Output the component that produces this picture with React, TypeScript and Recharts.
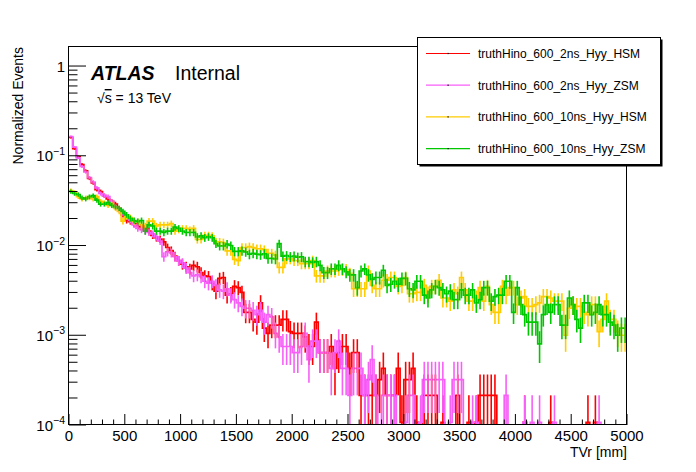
import React from "react";
import { ComposedChart, Line, XAxis, YAxis, ErrorBar } from "recharts";

const FONT = "'Liberation Sans', Arial, Helvetica, sans-serif";

// 150 bins over 0-5000 mm
const X_MIN = 0;
const X_MAX = 5000;
const N_BINS = 150;
const Y_MIN = 1e-4;
const Y_MAX = 1.63;

const X_MAJOR = [0, 500, 1000, 1500, 2000, 2500, 3000, 3500, 4000, 4500, 5000];
const Y_MAJOR = [1e-4, 1e-3, 1e-2, 1e-1, 1];

// normalized contents per bin
const hsm2ns = [
  0.16, 0.12, 0.097, 0.08, 0.068, 0.056, 0.05, 0.042, 0.04, 0.036,
  0.033, 0.031, 0.029, 0.026, 0.022, 0.019, 0.0185, 0.0175, 0.0165, 0.016,
  0.0155, 0.0145, 0.013, 0.0122, 0.0118, 0.011, 0.0095, 0.0088, 0.0076, 0.0068,
  0.0062, 0.0058, 0.0055, 0.006, 0.0058, 0.005, 0.0046, 0.0045, 0.0038, 0.0031,
  0.0043, 0.0044, 0.0028, 0.0029, 0.0035, 0.0034, 0.003, 0.0018, 0.0018, 0.0015,
  0.0014, 0.0023, 0.0012, 0.00105, 0.0013, 0.0013, 0.0013, 0.0015, 0.0015, 0.0011,
  0.00105, 0.00105, 0.00105, 0.00096, 0.000749, 0.000749, 0.0014, 0.000642, 0.000642, 0.000642,
  0.000749, 0.000428, 0.000642, 0.000749, 0.000749, 0.000428, 0.000642, 0.000642, 0.000214, 0.000214,
  0.000214, 0.000214, 0.000214, 0.000321, 0.000428, 0.000214, 0.000214, 0.000214, 0.000428, 0.000107,
  0.000321, 0.000321, 0.000428, 0.000107, 0, 0.000214, 0.000214, 0.000214, 0.000214, 0,
  0.000107, 0, 0, 0, 0.000214, 0, 0, 0.000107, 0, 0.000107,
  0.000214, 0.000214, 0.000214, 0.000214, 0.000214, 0, 0, 0, 0, 0,
  0, 0, 0.000107, 0, 0, 0, 0, 0, 0, 0.000107,
  0, 0, 0, 0, 0, 0, 0, 0, 0, 0.000107,
  0, 0.000107, 0, 0, 0, 0, 0, 0, 0, 0,
];

const zsm2ns = [
  0.164, 0.125, 0.095, 0.076, 0.066, 0.057, 0.051, 0.044, 0.038, 0.036,
  0.035, 0.031, 0.027, 0.025, 0.023, 0.021, 0.019, 0.017, 0.0155, 0.015,
  0.0145, 0.014, 0.0135, 0.0125, 0.0112, 0.0075, 0.0085, 0.0083, 0.0075, 0.0068,
  0.0064, 0.0056, 0.005, 0.0046, 0.0047, 0.0045, 0.004, 0.0038, 0.004, 0.0036,
  0.0032, 0.0031, 0.0033, 0.0028, 0.0025, 0.0023, 0.0021, 0.002, 0.002, 0.0019,
  0.0017, 0.0019, 0.0014, 0.0017, 0.0016, 0.00105, 0.00096, 0.000749, 0.000749, 0.000749,
  0.000642, 0.000642, 0.000749, 0.00105, 0.000535, 0.00086, 0.00086, 0.000642, 0.000642, 0.000642,
  0.000428, 0.000642, 0.00086, 0.000428, 0.000428, 0.000214, 0.000428, 0.000428, 0.000428, 0.000214,
  0.000321, 0.000535, 0.000214, 0, 0.000214, 0.000214, 0.000214, 0.000214, 0, 0,
  0.000107, 0.000214, 0.000214, 0, 0.000107, 0.000321, 0.000321, 0.000321, 0.000321, 0.000321,
  0.000321, 0, 0.000107, 0.000321, 0.000321, 0.000321, 0, 0, 0.000107, 0.000107,
  0, 0, 0, 0, 0, 0, 0, 0.000214, 0, 0,
  0, 0, 0.000107, 0, 0.000107, 0, 0.000107, 0, 0, 0,
  0.000107, 0, 0, 0, 0, 0, 0, 0, 0, 0,
  0, 0, 0.000107, 0, 0, 0, 0, 0, 0, 0,
];

const hsm10ns = [
  0.041, 0.039, 0.035, 0.033, 0.034, 0.034, 0.033, 0.035, 0.031, 0.03,
  0.028, 0.029, 0.026, 0.024, 0.0187, 0.021, 0.0205, 0.0185, 0.0185, 0.017,
  0.0165, 0.0187, 0.0187, 0.0165, 0.017, 0.017, 0.017, 0.0175, 0.0145, 0.015,
  0.0155, 0.0155, 0.015, 0.0155, 0.0117, 0.0117, 0.013, 0.013, 0.0128, 0.011,
  0.011, 0.0108, 0.0087, 0.0087, 0.007, 0.0068, 0.0095, 0.0095, 0.0097, 0.0095,
  0.0092, 0.0092, 0.009, 0.0082, 0.0082, 0.0078, 0.0057, 0.0057, 0.0071, 0.0071,
  0.0068, 0.0068, 0.0063, 0.0063, 0.0063, 0.0068, 0.0046, 0.0046, 0.0046, 0.0052,
  0.0052, 0.0052, 0.0054, 0.0054, 0.0054, 0.0049, 0.0033, 0.0033, 0.0033, 0.0033,
  0.0052, 0.0036, 0.0033, 0.0033, 0.0041, 0.0041, 0.0044, 0.0044, 0.0035, 0.0036,
  0.0044, 0.0029, 0.0029, 0.003, 0.003, 0.0036, 0.0029, 0.0035, 0.0035, 0.0041,
  0.0026, 0.0026, 0.0024, 0.0032, 0.0029, 0.0044, 0.0032, 0.0024, 0.0024, 0.0026,
  0.0034, 0.0024, 0.0035, 0.0022, 0.0018, 0.0018, 0.0035, 0.0028, 0.0034, 0.0034,
  0.0022, 0.0026, 0.0027, 0.0021, 0.0021, 0.0022, 0.0023, 0.0027, 0.0027, 0.0026,
  0.0024, 0.0024, 0.0024, 0.001, 0.002, 0.0022, 0.0021, 0.0021, 0.0018, 0.0017,
  0.0022, 0.0022, 0.0011, 0.0015, 0.0024, 0.0015, 0.0015, 0.0011, 0.001, 0.001,
];

const zsm10ns = [
  0.04, 0.038, 0.037, 0.034, 0.033, 0.035, 0.036, 0.032, 0.029, 0.029,
  0.03, 0.028, 0.027, 0.026, 0.024, 0.022, 0.02, 0.019, 0.0185, 0.019,
  0.0145, 0.017, 0.0165, 0.0145, 0.0145, 0.014, 0.0145, 0.0145, 0.016, 0.0155,
  0.0145, 0.014, 0.014, 0.014, 0.0125, 0.0128, 0.0122, 0.0125, 0.0122, 0.0105,
  0.0099, 0.0099, 0.0104, 0.01, 0.0086, 0.0086, 0.0087, 0.0085, 0.008, 0.0082,
  0.008, 0.0079, 0.0081, 0.0072, 0.0072, 0.0071, 0.0105, 0.0076, 0.0077, 0.0075,
  0.0076, 0.0074, 0.0075, 0.0066, 0.0066, 0.0065, 0.0066, 0.006, 0.005, 0.005,
  0.0055, 0.0055, 0.006, 0.0055, 0.0051, 0.0047, 0.0047, 0.0034, 0.0052, 0.0055,
  0.0047, 0.0042, 0.0044, 0.0044, 0.0053, 0.0036, 0.0037, 0.004, 0.0037, 0.0043,
  0.0043, 0.0033, 0.0032, 0.004, 0.004, 0.0028, 0.0026, 0.0032, 0.0035, 0.0034,
  0.0032, 0.0029, 0.0031, 0.0025, 0.0025, 0.0032, 0.0028, 0.0028, 0.0032, 0.0023,
  0.0025, 0.0034, 0.0034, 0.0024, 0.0027, 0.0028, 0.0028, 0.004, 0.004, 0.0018,
  0.0034, 0.0022, 0.0017, 0.0014, 0.0014, 0.0014, 0.0008, 0.0017, 0.0022, 0.0018,
  0.0022, 0.0022, 0.0013, 0.0013, 0.0026, 0.0022, 0.0015, 0.0012, 0.0023, 0.0023,
  0.0017, 0.0018, 0.0022, 0.0017, 0.0017, 0.0014, 0.0013, 0.001, 0.0012, 0.0012,
];

// weight of one event in each sample (sets the Poisson error bars)
const SERIES = [
  { name: "truthHino_600_2ns_Hyy_HSM", color: "#ff0000", values: hsm2ns, weight: 1.07e-4 },
  { name: "truthHino_600_2ns_Hyy_ZSM", color: "#f75ff7", values: zsm2ns, weight: 1.07e-4 },
  { name: "truthHino_600_10ns_Hyy_HSM", color: "#ffcc00", values: hsm10ns, weight: 1.2e-4 },
  { name: "truthHino_600_10ns_Hyy_ZSM", color: "#00c800", values: zsm10ns, weight: 1.2e-4 },
];

const BIN_W = (X_MAX - X_MIN) / N_BINS;

function stepData(values: number[]) {
  const pts = values.map((v, i) => ({ x: X_MIN + i * BIN_W, y: Math.max(v, Y_MIN) }));
  pts.push({ x: X_MAX, y: Math.max(values[values.length - 1], Y_MIN) });
  return pts;
}

function errorData(values: number[], weight: number) {
  const out: { x: number; y: number; err: number[] }[] = [];
  values.forEach((v, i) => {
    if (v <= 0) return;
    const e = Math.sqrt(v * weight);
    out.push({ x: X_MIN + (i + 0.5) * BIN_W, y: v, err: [Math.min(e, v - Y_MIN), e] });
  });
  return out;
}

const X_TICKS: number[] = [];
for (let t = X_MIN; t <= X_MAX; t += 100) X_TICKS.push(t);

const Y_TICKS: number[] = [];
Y_MAJOR.forEach((d) => {
  for (let k = 1; k <= 9; k++) {
    const t = d * k;
    if (t <= Y_MAX) Y_TICKS.push(t);
  }
});

const XTick = (props: any) => {
  const { x, y, payload } = props;
  const v = payload.value;
  const major = X_MAJOR.includes(v);
  return (
    <g>
      <line x1={x} x2={x} y1={y} y2={y - (major ? 11 : 5.5)} stroke="#000" strokeWidth={1} />
      {major && (
        <text x={x} y={y + 15.5} textAnchor="middle" fontSize={15} fontFamily={FONT} fill="#000">
          {v}
        </text>
      )}
    </g>
  );
};

const YTick = (props: any) => {
  const { x, y, payload } = props;
  const v = payload.value;
  const exp = Math.round(Math.log10(v));
  const major = Math.abs(Math.log10(v) - exp) < 1e-6;
  return (
    <g>
      <line x1={x} x2={x + (major ? 17 : 8.5)} y1={y} y2={y} stroke="#000" strokeWidth={1} />
      {major && (
        <text x={x - 4} y={y + 5.5} textAnchor="end" fontSize={15} fontFamily={FONT} fill="#000">
          {exp === 0 ? (
            "1"
          ) : (
            <>
              10
              <tspan dy={-6.5} fontSize={10.5}>
                {"\u2212" + Math.abs(exp)}
              </tspan>
            </>
          )}
        </text>
      )}
    </g>
  );
};

export default function App() {
  return (
    <div
      style={{
        position: "absolute",
        left: 0,
        top: 0,
        width: 696,
        height: 472,
        background: "#fff",
        fontFamily: FONT,
      }}
    >
      <ComposedChart width={696} height={472} margin={{ top: 47, right: 69, bottom: 17, left: 29 }}>
        <XAxis
          type="number"
          dataKey="x"
          domain={[X_MIN, X_MAX]}
          allowDataOverflow
          ticks={X_TICKS}
          interval={0}
          tickSize={0}
          tickMargin={0}
          axisLine={false}
          tickLine={false}
          height={30}
          tick={XTick}
        />
        <YAxis
          type="number"
          scale="log"
          domain={[Y_MIN, Y_MAX]}
          allowDataOverflow
          ticks={Y_TICKS}
          interval={0}
          tickSize={0}
          tickMargin={0}
          axisLine={false}
          tickLine={false}
          width={40}
          tick={YTick}
        />
        {SERIES.map((s) => (
          <Line
            key={s.name + "-hist"}
            data={stepData(s.values)}
            dataKey="y"
            type="stepAfter"
            stroke={s.color}
            strokeWidth={1.7}
            dot={false}
            activeDot={false}
            isAnimationActive={false}
          />
        ))}
        {SERIES.map((s) => (
          <Line
            key={s.name + "-err"}
            data={errorData(s.values, s.weight)}
            dataKey="y"
            stroke="none"
            dot={false}
            activeDot={false}
            isAnimationActive={false}
          >
            <ErrorBar
              dataKey="err"
              direction="y"
              width={0}
              stroke={s.color}
              strokeWidth={1.6}
              isAnimationActive={false}
            />
          </Line>
        ))}
      </ComposedChart>

      <svg
        width={696}
        height={472}
        style={{ position: "absolute", left: 0, top: 0, pointerEvents: "none" }}
        fontFamily={FONT}
      >
        <rect x={68.5} y={46.5} width={558} height={378} fill="none" stroke="#000" strokeWidth={1} />

        <text transform="translate(23,47) rotate(-90)" textAnchor="end" fontSize={14} fill="#000">
          Normalized Events
        </text>
        <text x={627} y={457} textAnchor="end" fontSize={14} fill="#000">
          TVr [mm]
        </text>

        <text x={91} y={80} fontSize={19.5} fontWeight="bold" fontStyle="italic" fill="#000">
          ATLAS
        </text>
        <text x={175} y={80} fontSize={19.5} fill="#000">
          Internal
        </text>
        <text x={97} y={103} fontSize={14} fill="#000">
          {"\u221A"}
          <tspan textDecoration="overline">s</tspan>
          {" = 13 TeV"}
        </text>

        {/* legend box with shadow */}
        <rect x={419.5} y={39.5} width={243} height={127} fill="#000" />
        <rect x={417.5} y={37.5} width={243} height={127} fill="#fff" stroke="#000" strokeWidth={1} />
        {SERIES.map((s, i) => {
          const cy = 53.5 + i * 31.7;
          return (
            <g key={s.name}>
              <line x1={426} x2={470} y1={cy} y2={cy} stroke={s.color} strokeWidth={1.2} />
              <rect x={447.5} y={cy - 0.6} width={1.2} height={1.2} fill="#000" />
              <text x={478} y={cy + 4.3} fontSize={12} fill="#000">
                {s.name}
              </text>
            </g>
          );
        })}
      </svg>
    </div>
  );
}
